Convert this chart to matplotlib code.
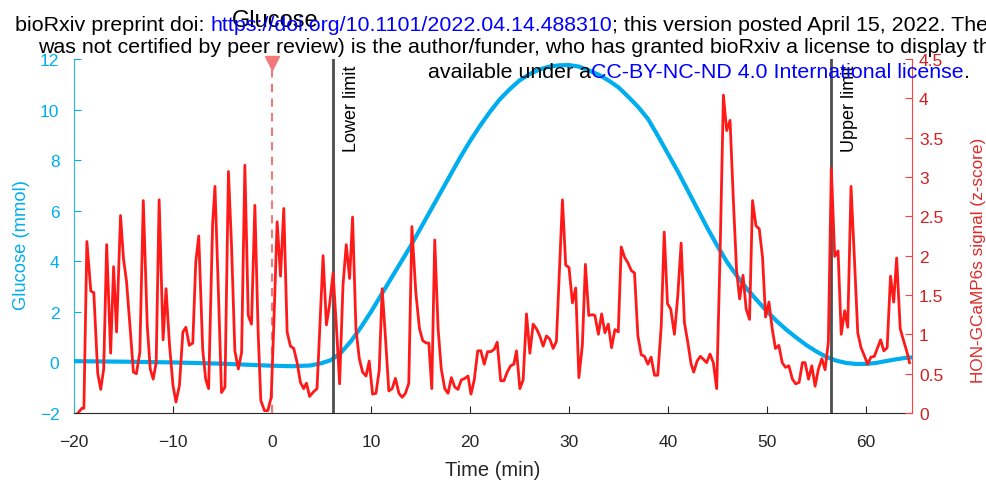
import numpy as np
import matplotlib.pyplot as plt

plt.rcParams['font.family'] = ['Liberation Sans', 'DejaVu Sans']

# glucose trace (mmol)
glucose_t = [-20, -15, -10, -5, -2, 0, 2, 3.9, 5, 6, 7, 8, 9, 10, 11, 12, 13, 14, 15,
             16, 17, 18, 19, 20, 21, 22, 23, 24, 25, 26, 27, 28, 29, 30, 31, 32, 33,
             34, 35, 36, 37, 38, 39, 40, 41, 42, 43, 44, 45, 46, 47, 48, 49, 50, 51,
             52, 53, 54, 55, 56, 57, 58, 59, 60, 61, 62, 63, 64, 64.6]
glucose_v = [0.05, 0.03, 0.0, -0.05, -0.1, -0.13, -0.15, -0.12, -0.03, 0.1, 0.4, 0.85,
             1.4, 2.0, 2.65, 3.3, 3.95, 4.6, 5.3, 6.0, 6.7, 7.4, 8.1, 8.75, 9.35, 9.9,
             10.4, 10.8, 11.15, 11.4, 11.58, 11.7, 11.75, 11.76, 11.7, 11.55, 11.38,
             11.15, 10.88, 10.5, 10.1, 9.62, 8.95, 8.25, 7.55, 6.8, 6.05, 5.3, 4.6,
             3.95, 3.4, 2.9, 2.45, 2.02, 1.63, 1.28, 0.97, 0.68, 0.43, 0.22, 0.07,
             -0.02, -0.06, -0.06, -0.02, 0.05, 0.12, 0.18, 0.2]

# HON-GCaMP6s signal (z-score)
signal_t = [-19.6, -19.4, -19.2, -19.0, -18.7, -18.3, -18.0, -17.6, -17.3, -17.0, -16.7,
            -16.3, -16.0, -15.7, -15.3, -15.0, -14.7, -14.3, -14.0, -13.7, -13.35, -13.0,
            -12.6, -12.3, -12.0, -11.7, -11.4, -11.0, -10.7, -10.35, -10.0, -9.7, -9.35,
            -9.0, -8.7, -8.35, -8.0, -7.7, -7.4, -7.0, -6.7, -6.4, -6.0, -5.76, -5.4,
            -5.1, -4.75, -4.4, -4.1, -3.75, -3.4, -3.07, -2.74, -2.4, -2.07, -1.73, -1.4,
            -1.13, -0.76, -0.42, -0.08, 0.18, 0.52, 0.86, 1.19, 1.53, 1.86, 2.2, 2.54,
            2.87, 3.2, 3.48, 3.8, 4.2, 4.55, 5.16, 5.5, 5.83, 6.17, 6.5, 6.83, 7.17, 7.5,
            7.84, 8.14, 8.48, 8.82, 9.15, 9.5, 9.82, 10.16, 10.5, 10.83, 11.13, 11.47,
            11.8, 12.14, 12.47, 12.82, 13.15, 13.48, 13.82, 14.13, 14.53, 14.9, 15.23,
            15.57, 15.84, 16.14, 16.44, 16.78, 17.1, 17.45, 17.78, 18.12, 18.46, 18.79,
            19.12, 19.47, 19.8, 20.1, 20.43, 20.78, 21.1, 21.44, 21.78, 22.11, 22.45,
            22.75, 23.1, 23.43, 23.76, 24.1, 24.43, 24.7, 25.04, 25.37, 25.71, 26.05,
            26.38, 26.72, 27.05, 27.39, 27.73, 28.06, 28.4, 28.73, 29.34, 29.67, 30.0,
            30.35, 30.68, 31.0, 31.35, 31.66, 32.0, 32.36, 32.62, 32.97, 33.3, 33.63,
            33.97, 34.3, 34.64, 34.98, 35.28, 35.62, 35.95, 36.3, 36.62, 36.96, 37.3,
            37.63, 37.97, 38.3, 38.64, 38.97, 39.32, 39.62, 39.95, 40.28, 40.65, 40.99,
            41.33, 41.66, 42.0, 42.34, 42.6, 42.94, 43.27, 43.6, 43.9, 44.25, 44.58,
            44.92, 45.26, 45.6, 45.93, 46.27, 46.6, 46.93, 47.24, 47.58, 47.9, 48.24,
            48.54, 48.89, 49.22, 49.55, 49.86, 50.2, 50.53, 50.86, 51.2, 51.54, 51.87,
            52.21, 52.57, 52.9, 53.25, 53.58, 53.85, 54.2, 54.53, 54.86, 55.2, 55.54,
            55.87, 56.2, 56.5, 56.84, 57.18, 57.5, 57.85, 58.16, 58.49, 58.82, 59.17,
            59.5, 59.83, 60.17, 60.5, 60.84, 61.18, 61.48, 61.8, 62.14, 62.48, 62.8,
            63.1, 63.46, 63.8, 64.13, 64.4]
signal_z = [0.0, 0.03, 0.06, 0.06, 2.18, 1.55, 1.53, 0.50, 0.30, 0.56, 2.14, 0.76, 1.86,
            1.03, 2.51, 1.96, 1.68, 1.03, 0.52, 0.50, 0.77, 2.70, 1.11, 0.56, 0.43, 0.64,
            2.71, 0.93, 1.58, 0.86, 0.35, 0.14, 0.35, 1.03, 1.09, 0.86, 0.89, 1.92, 2.25,
            0.81, 0.43, 0.31, 2.40, 2.88, 1.49, 0.26, 0.33, 3.07, 2.17, 0.79, 0.56, 0.77,
            3.15, 1.24, 1.13, 2.64, 1.03, 0.16, 0.03, 0.03, 0.20, 1.11, 2.43, 1.74, 2.60,
            1.03, 0.85, 0.82, 0.64, 0.39, 0.31, 0.38, 0.21, 0.27, 0.31, 2.0, 1.12, 1.39,
            1.78, 1.11, 0.37, 1.62, 2.14, 1.71, 2.49, 1.07, 0.69, 0.52, 0.47, 0.66, 0.24,
            0.25, 0.54, 1.58, 0.94, 0.28, 0.31, 0.44, 0.25, 0.20, 0.25, 0.38, 2.37, 1.53,
            1.07, 0.92, 0.89, 0.89, 0.31, 2.20, 1.07, 0.56, 0.31, 0.25, 0.45, 0.33, 0.30,
            0.42, 0.44, 0.47, 0.24, 0.42, 0.79, 0.79, 0.62, 0.78, 0.78, 0.81, 0.90, 0.41,
            0.41, 0.52, 0.60, 0.62, 0.79, 0.31, 0.42, 1.26, 0.76, 1.13, 1.07, 0.98, 0.85,
            0.98, 0.94, 0.82, 0.91, 2.71, 1.88, 1.85, 1.40, 1.59, 0.45, 0.86, 1.89, 1.24,
            1.25, 1.24, 1.00, 1.26, 1.02, 1.13, 0.83, 1.06, 1.03, 2.11, 1.98, 1.91, 1.81,
            1.78, 0.98, 0.74, 0.72, 0.62, 0.71, 0.48, 0.48, 1.11, 2.30, 1.39, 1.32, 1.00,
            1.49, 2.16, 1.15, 0.90, 0.62, 0.52, 0.66, 0.72, 0.68, 0.64, 0.75, 0.64, 0.31,
            2.0, 4.04, 3.59, 3.72, 2.72, 1.81, 1.45, 1.75, 1.32, 1.19, 2.70, 2.38, 2.34,
            1.98, 1.22, 1.41, 1.07, 0.82, 0.86, 0.64, 0.58, 0.60, 0.43, 0.37, 0.39, 0.64,
            0.64, 0.43, 0.60, 0.34, 0.56, 0.69, 0.55, 0.90, 3.11, 1.99, 2.06, 1.00, 1.30,
            1.09, 2.88, 2.0, 1.02, 0.83, 0.73, 0.62, 0.71, 0.72, 0.83, 0.93, 0.79, 0.83,
            1.74, 1.41, 1.97, 1.07, 0.92, 0.78, 0.64]

glucose_time = 0
lower_limit = 6.2
upper_limit = 56.5

x_ticks = np.arange(-20, 61, 10)
left_ticks = np.arange(-2, 13, 2)
right_ticks = np.arange(0, 4.51, 0.5)

header = [
    [('bioRxiv preprint doi: ', 'black'),
     ('https://doi.org/10.1101/2022.04.14.488310', 'blue'),
     ('; this version posted April 15, 2022. The copyright holder for this preprint (which', 'black')],
    [('was not certified by peer review) is the author/funder, who has granted bioRxiv a license to display the preprint in perpetuity. It is made', 'black')],
    [('available under a', 'black'),
     ('CC-BY-NC-ND 4.0 International license', 'blue'),
     ('.', 'black')],
]
header_pos = [(15, 31), (38, 53), (428, 78)]   # pixel start / baseline


def put_line(fig, parts, x0, y0, size):
    r = fig.canvas.get_renderer()
    x = x0
    H = fig.bbox.height
    for s, c in parts:
        t = fig.text(x / fig.bbox.width, 1 - y0 / H, s, color=c, fontsize=size,
                     ha='left', va='baseline')
        bb = t.get_window_extent(renderer=r)
        x = bb.x1


def main():

    cyan = '#00AEEF'
    red = '#FF1A1A'

    fig = plt.figure(figsize=(9.86, 4.89), dpi=100)
    ax = fig.add_axes([74/986, 75/489, 838/986, 354/489])
    ax2 = ax.twinx()

    ax.plot(glucose_t, glucose_v, color=cyan, linewidth=3, solid_capstyle='round', zorder=3)
    ax.set_xlim(-20, 64.65)
    ax.set_ylim(-2, 12)
    ax.set_xticks(x_ticks)
    ax.set_yticks(left_ticks)
    ax.set_xlabel('Time (min)', fontsize=14.5, color='#262626')
    ax.xaxis.set_label_coords(0.5, -0.132)
    ax.set_ylabel('Glucose (mmol)', fontsize=13.2, color=cyan)
    ax.yaxis.set_label_coords(-0.053, 0.477)

    ax2.axvline(lower_limit, color='#4D4D4D', linewidth=2, zorder=1)
    ax2.axvline(upper_limit, color='#4D4D4D', linewidth=2, zorder=1)
    ax2.plot([glucose_time, glucose_time], [0, 4.5], color='#F07A7A', linewidth=1.5,
             dashes=(4, 3), zorder=1)
    ax2.plot(signal_t, signal_z, color=red, linewidth=2, zorder=3)
    ax2.plot([glucose_time], [4.45], marker='v', markersize=10, color='#F07A7A',
             clip_on=False, zorder=5)
    ax2.set_ylim(0, 4.5)
    ax2.set_yticks(right_ticks)
    ax2.set_yticklabels([format(v, 'g') for v in right_ticks])
    ax2.set_ylabel('HON-GCaMP6s signal (z-score)', fontsize=12.3, color='#E02828')
    ax2.yaxis.set_label_coords(1.07, 0.435)

    for a in (ax, ax2):
        a.spines['top'].set_visible(False)
        a.tick_params(direction='in', labelsize=12.5, length=5)
    ax.tick_params(axis='x', pad=15)
    ax.tick_params(axis='y', pad=10.5)
    ax.spines['right'].set_visible(False)
    ax2.spines['left'].set_visible(False)
    ax2.spines['bottom'].set_visible(False)
    ax.spines['left'].set_color('#2AB4D6')
    ax.spines['bottom'].set_color('#262626')
    ax.tick_params(axis='y', colors=cyan)
    ax.tick_params(axis='x', colors='#262626')
    ax2.spines['right'].set_color('#FF4040')
    ax2.tick_params(axis='y', colors='#FF4040', labelcolor='#D42020', pad=5)

    ax2.text(lower_limit + 0.95, 0.985, 'Lower limit', rotation=90, fontsize=13,
             ha='left', va='top', transform=ax2.get_xaxis_transform())
    ax2.text(upper_limit + 0.95, 0.985, 'Upper limit', rotation=90, fontsize=13,
             ha='left', va='top', transform=ax2.get_xaxis_transform())

    fig.text(275/986, 1 - 27/489, 'Glucose', fontsize=17, ha='center', va='baseline')

    fig.canvas.draw()
    for parts, (x0, y0) in zip(header, header_pos):
        put_line(fig, parts, x0, y0, 15.4)

    fig.savefig('out.png', dpi=100)

    return


if __name__ == "__main__":
    main()
